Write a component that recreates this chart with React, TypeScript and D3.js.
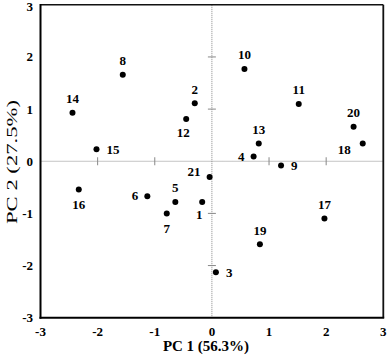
import React from "react";
import * as d3 from "d3";

const ids = ["1","2","3","4","5","6","7","8","9","10","11","12","13","14","15","16","17","18","19","20","21"];
const pc1 = [-0.17,-0.30,0.07,0.73,-0.64,-1.13,-0.79,-1.56,1.21,0.57,1.52,-0.45,0.82,-2.44,-2.02,-2.33,1.97,2.64,0.84,2.48,-0.04];
const pc2 = [-0.78,1.11,-2.13,0.09,-0.78,-0.67,-1.00,1.66,-0.08,1.77,1.10,0.81,0.34,0.93,0.23,-0.54,-1.10,0.34,-1.59,0.66,-0.30];
// label placement codes
const labelPos = ["bl","t","r","l","t","l","b","t","r","t","t","bl","t","t","r","b","t","lb","t","t","tl"];
const ticks = [-3,-2,-1,0,1,2,3];
const innerTicks = [-2,-1,1,2];
const xTitle = "PC 1 (56.3%)";
const yTitle = "PC 2 (27.5%)";

const W = 387, H = 357;
const L = 40.5, R = 383.3, T = 4.8, B = 317.7;
const FONT = "Liberation Serif, Times New Roman, serif";

const offsets: Record<string, { dx: number; dy: number; anchor: string }> = {
  t: { dx: 0, dy: -9.5, anchor: "middle" },
  b: { dx: 0, dy: 19.5, anchor: "middle" },
  l: { dx: -9, dy: 4, anchor: "end" },
  r: { dx: 10, dy: 4.5, anchor: "start" },
  bl: { dx: -3, dy: 17.5, anchor: "middle" },
  lb: { dx: -12, dy: 10, anchor: "end" },
  tl: { dx: -9, dy: -0.5, anchor: "end" },
};

export default function App() {
  const x = d3.scaleLinear().domain([-3, 3]).range([L, R]);
  const y = d3.scaleLinear().domain([-3, 3]).range([B, T]);
  const x0 = x(0), y0 = y(0);
  return (
    <svg width={W} height={H} style={{ position: "absolute", left: 0, top: 0, background: "#fff" }}
      fontFamily={FONT}>
      {/* reference lines */}
      <line x1={L} x2={R} y1={y0} y2={y0} stroke="#888" strokeWidth={1} strokeDasharray="1,1" />
      <line x1={x0} x2={x0} y1={T} y2={B} stroke="#888" strokeWidth={1} strokeDasharray="1,1" />
      {innerTicks.map((t) => (
        <g key={"it" + t}>
          <line x1={x(t)} x2={x(t)} y1={y0 - 4} y2={y0 + 4} stroke="#888" strokeWidth={1} />
          <line x1={x0 - 4} x2={x0 + 4} y1={y(t)} y2={y(t)} stroke="#888" strokeWidth={1} />
        </g>
      ))}
      {/* frame */}
      <line x1={L} x2={R} y1={T} y2={T} stroke="#111" strokeWidth={1.5} />
      <line x1={R} x2={R} y1={T} y2={B} stroke="#111" strokeWidth={1.8} />
      <line x1={L} x2={L} y1={T - 0.75} y2={B + 1} stroke="#000" strokeWidth={2} />
      <line x1={L - 1} x2={R + 0.9} y1={B} y2={B} stroke="#000" strokeWidth={2} />
      {/* tick labels */}
      {ticks.map((t) => (
        <text key={"yl" + t} x={33} y={Math.max(11, y(t) + 4.5)} textAnchor="end" fontSize={13} fontWeight="bold">{t}</text>
      ))}
      {ticks.map((t) => (
        <text key={"xl" + t} x={x(t)} y={336} textAnchor="middle" fontSize={13} fontWeight="bold">{t}</text>
      ))}
      {/* titles */}
      <text x={206} y={351} textAnchor="middle" fontSize={15} fontWeight="bold">{xTitle}</text>
      <text transform="translate(16.5,162) rotate(-90)" textAnchor="middle" fontSize={15}
        textLength={124} lengthAdjust="spacingAndGlyphs">{yTitle}</text>
      {/* points */}
      {ids.map((id, i) => {
        const px = x(pc1[i]), py = y(pc2[i]);
        const o = offsets[labelPos[i]];
        return (
          <g key={id}>
            <circle cx={px} cy={py} r={3} fill="#000" />
            <text x={px + o.dx} y={py + o.dy} textAnchor={o.anchor} fontSize={13} fontWeight="bold">{id}</text>
          </g>
        );
      })}
    </svg>
  );
}
